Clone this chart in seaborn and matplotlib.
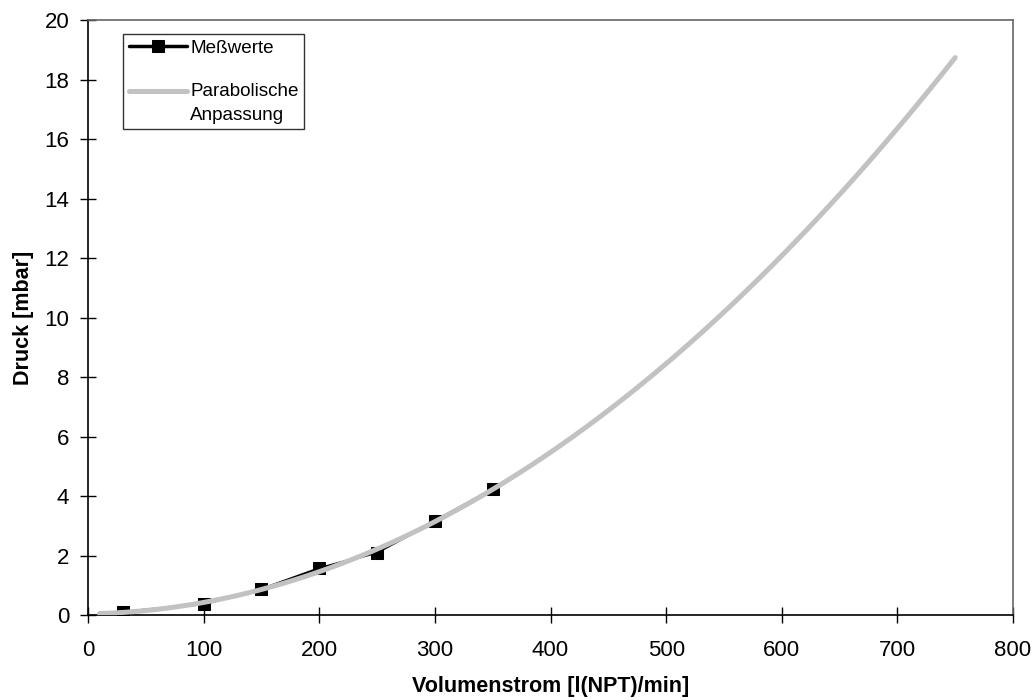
import numpy as np
import pandas as pd
import matplotlib
matplotlib.use("Agg")
import matplotlib.pyplot as plt
from matplotlib.legend_handler import HandlerLine2D
import seaborn as sns

# Measured pressure drop over volume flow
flow_meas = [30, 100, 150, 200, 250, 300, 350]          # l(NPT)/min
pressure_meas = [0.10, 0.37, 0.87, 1.57, 2.10, 3.16, 4.23]  # mbar

# Parabolic fit evaluated over the extended flow range
fit_range = (10, 750)
x_ticks = [0, 100, 200, 300, 400, 500, 600, 700, 800]
y_ticks = [0, 2, 4, 6, 8, 10, 12, 14, 16, 18, 20]

sns.set_style("ticks")
plt.rcParams["font.family"] = ["Liberation Sans", "DejaVu Sans"]
plt.rcParams["text.color"] = "black"
plt.rcParams["axes.labelcolor"] = "black"
plt.rcParams["xtick.color"] = "black"
plt.rcParams["ytick.color"] = "black"

coef = np.polyfit(flow_meas, pressure_meas, 2)
flow_fit = np.linspace(fit_range[0], fit_range[1], 300)
pressure_fit = np.polyval(coef, flow_fit)

df_meas = pd.DataFrame({"flow": flow_meas, "p": pressure_meas})
df_fit = pd.DataFrame({"flow": flow_fit, "p": pressure_fit})


class TopAlignedLine(HandlerLine2D):
    """Line handle raised level with the first line of a two-line label."""

    def __init__(self, shift, **kw):
        super().__init__(**kw)
        self.shift = shift

    def create_artists(self, legend, orig_handle, xdescent, ydescent,
                       width, height, fontsize, trans):
        return super().create_artists(legend, orig_handle, xdescent,
                                      ydescent - self.shift, width, height,
                                      fontsize, trans)


fig = plt.figure(figsize=(10.34, 7.0), dpi=100)
ax = fig.add_axes([0.0851, 0.1214, 0.9797 - 0.0851, 0.9714 - 0.1214])

sns.lineplot(data=df_meas, x="flow", y="p", ax=ax, color="black", lw=1.8,
             marker="s", markersize=8, markeredgecolor="black",
             label="Meßwerte", zorder=2)
sns.lineplot(data=df_fit, x="flow", y="p", ax=ax, color="#c2c2c2", lw=3.6,
             label="Parabolische\nAnpassung", zorder=3)

ax.set_xlim(0, 800)
ax.set_ylim(0, 20)
ax.set_xticks(x_ticks)
ax.set_yticks(y_ticks)
ax.tick_params(direction="inout", length=12, width=1, labelsize=16)
ax.tick_params(axis="x", pad=12)
ax.tick_params(axis="y", pad=7.5)
ax.set_xlabel("Volumenstrom [l(NPT)/min]", fontsize=15.5, fontweight="bold",
              labelpad=11)
ax.set_ylabel("Druck [mbar]", fontsize=15.5, fontweight="bold", labelpad=7.5)

for side in ("left", "bottom"):
    ax.spines[side].set_color("black")
    ax.spines[side].set_linewidth(1.2)
for side in ("top", "right"):
    ax.spines[side].set_visible(True)
    ax.spines[side].set_color("#666666")
    ax.spines[side].set_linewidth(1.2)

handles, labels = ax.get_legend_handles_labels()
leg = ax.legend(handles, labels, loc="upper left",
                bbox_to_anchor=(0.038, 0.977), fontsize=13.6,
                frameon=True, fancybox=False, edgecolor="black",
                handlelength=3.1, handletextpad=0.15, labelspacing=1.4,
                borderpad=0.3, borderaxespad=0,
                handler_map={handles[1]: TopAlignedLine(shift=17)})
leg.get_frame().set_linewidth(1.0)
for t in leg.get_texts():
    t.set_linespacing(1.5)
leg.legend_handles[0].set_linewidth(2.5)

fig.savefig("out.png", dpi=100)
